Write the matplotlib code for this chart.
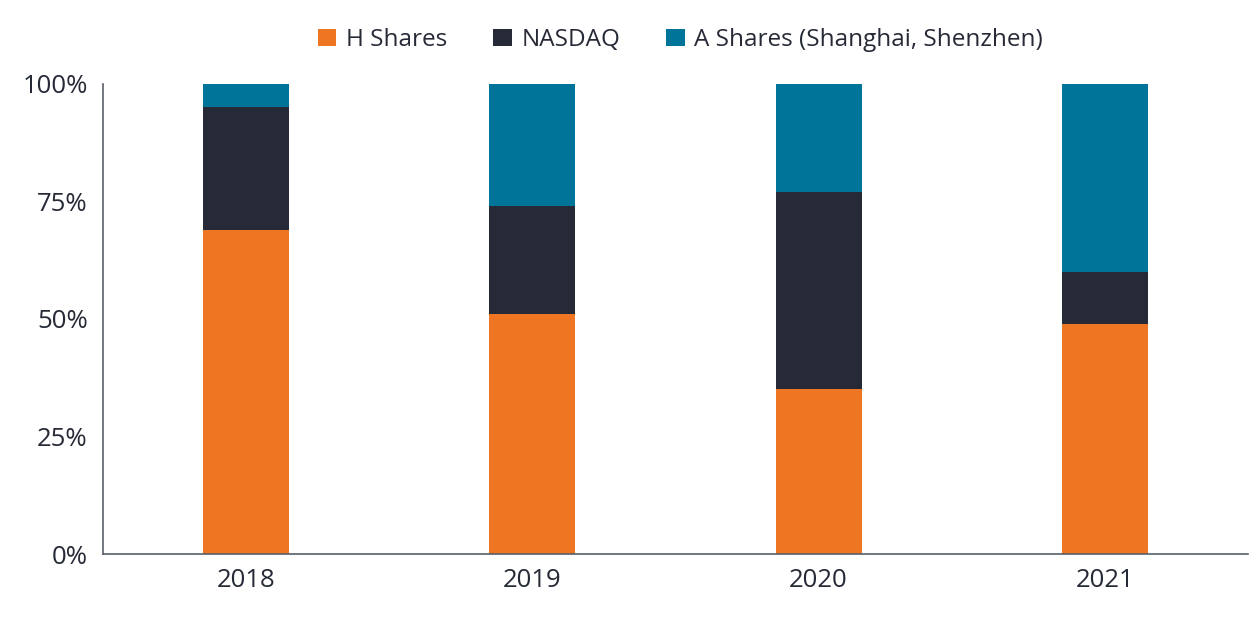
import matplotlib.pyplot as plt
from matplotlib.ticker import PercentFormatter

years = ["2018", "2019", "2020", "2021"]
h_shares = [69, 51, 35, 49]
nasdaq = [26, 23, 42, 11]
a_shares = [5, 26, 23, 40]

series_names = ["H Shares", "NASDAQ", "A Shares (Shanghai, Shenzhen)"]
colors = ["#EE7623", "#262A36", "#007499"]

plt.rcParams["font.family"] = ["Open Sans", "DejaVu Sans"]
text_color = "#262A36"

fig = plt.figure(figsize=(12.51, 6.26), dpi=100)
ax = fig.add_axes([0.0823, 0.115, 0.9153, 0.751])

x = range(len(years))
bottom = [0] * len(years)
for name, vals, col in zip(series_names, [h_shares, nasdaq, a_shares], colors):
    ax.bar(x, vals, width=0.3, bottom=bottom, color=col, label=name)
    bottom = [b + v for b, v in zip(bottom, vals)]

ax.set_xlim(-0.5, 3.5)
ax.set_ylim(0, 100)
ax.set_yticks([0, 25, 50, 75, 100])
ax.yaxis.set_major_formatter(PercentFormatter(decimals=0))
ax.set_xticks(list(x))
ax.set_xticklabels(years)
ax.tick_params(length=0, labelsize=18.5, colors=text_color)
ax.tick_params(axis="x", pad=10)
ax.tick_params(axis="y", pad=11)

for s in ["top", "right"]:
    ax.spines[s].set_visible(False)
for s in ["left", "bottom"]:
    ax.spines[s].set_color("#5A5F6A")
    ax.spines[s].set_linewidth(1.2)

fig.legend(loc="center", bbox_to_anchor=(0.544, 0.936), ncol=3, frameon=False,
           fontsize=17.5, handlelength=0.75, handleheight=0.75, handletextpad=0.4,
           columnspacing=1.9, labelcolor=text_color)

fig.savefig("out.png", dpi=100)
